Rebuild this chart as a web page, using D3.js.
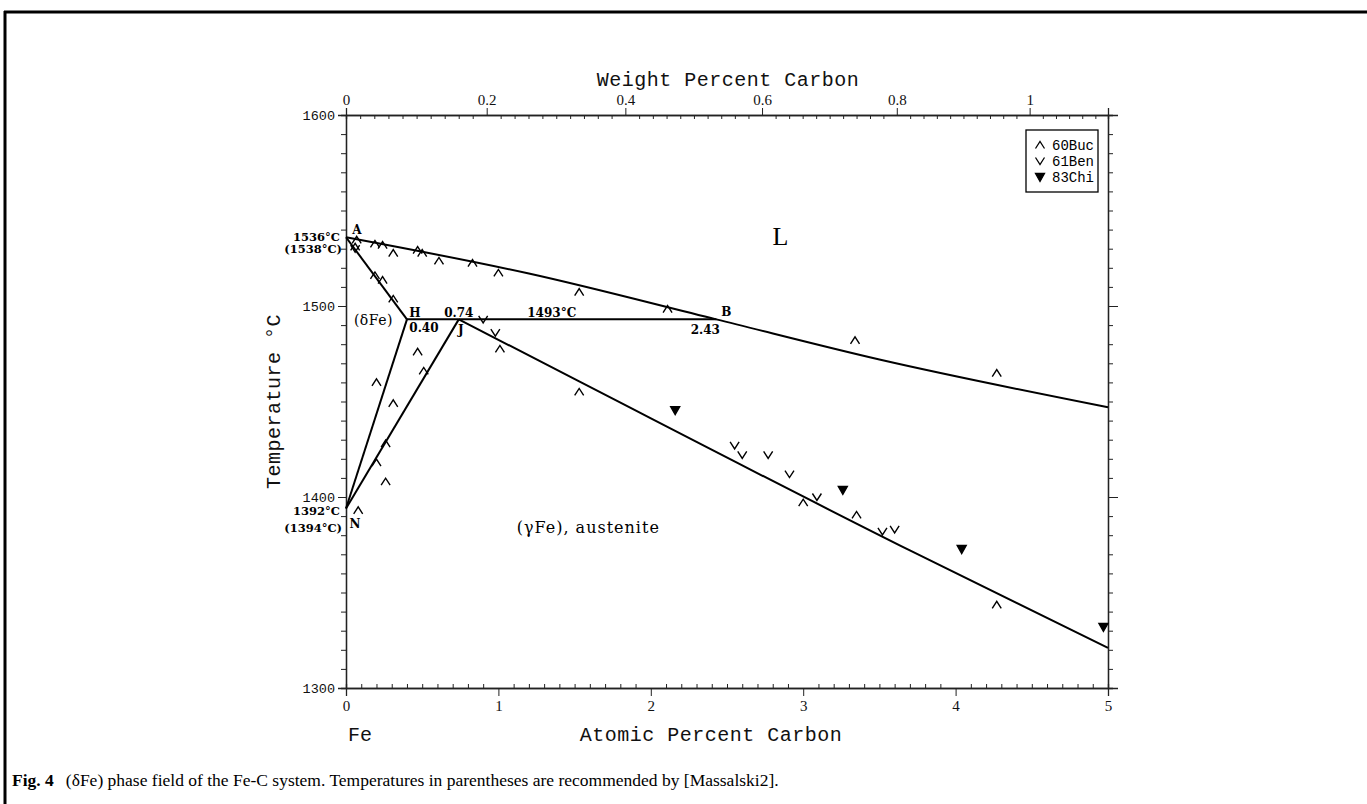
<!DOCTYPE html>
<html><head><meta charset="utf-8">
<script src="https://cdn.jsdelivr.net/npm/d3@7"></script>
<style>body{margin:0;background:#fff}svg{display:block}</style>
</head><body><svg id="c" width="1367" height="804"></svg>
<script>
// ---------- data ----------
const atTicksMajor = [0,1,2,3,4,5];
const tempTicksMajor = [1300,1400,1500,1600];
const wtTicksMajor = [0,0.2,0.4,0.6,0.8,1];
const wtTickLabels = ["0","0.2","0.4","0.6","0.8","1"];
const liquidus = [[0,1536],[1.2,1517],[2.43,1493],[3.5,1472],[5,1447]];
const solidusAH = [[0,1536],[0.40,1493]];
const peritectic = [[0.40,1493],[2.43,1493]];
const boundaryHN = [[0.40,1493],[0,1394]];
const boundaryJN = [[0.74,1493],[0,1394]];
const solidusJ = [[0.74,1493],[1.53,1460.5],[3.7,1372],[5,1321]];
const buc60 = [[0.07,1534.6],[0.06,1531],[0.19,1532.5],[0.24,1531.9],[0.31,1527.7],[0.47,1529.3],[0.5,1527.7],
  [0.61,1523.6],[0.83,1522.5],[1.0,1517.3],[1.53,1507.3],[2.11,1498.4],[3.34,1482],[4.27,1464.9],
  [0.19,1516],[0.24,1513.6],[0.31,1503.7],
  [0.47,1476],[0.51,1466],[0.2,1460],[0.31,1449],[0.26,1428],[0.2,1418],[0.26,1408],[0.08,1393],
  [1.01,1477.5],[1.53,1455],[3.0,1397],[3.35,1390.6],[4.27,1343.5]];
const ben61 = [[0.06,1530],[0.90,1493],[0.98,1486],[2.55,1427],[2.60,1422],[2.77,1422],[2.91,1412],[3.09,1400],[3.52,1382],[3.60,1383]];
const chi83 = [[2.16,1445.5],[3.26,1403.7],[4.04,1372.8],[4.97,1332]];
const legendItems = ["60Buc","61Ben","83Chi"];

// ---------- helpers ----------
const wt2at = w => { const c=w/12.011, f=(100-w)/55.845; return 100*c/(c+f); };
const svg = d3.select("#c");
const x = d3.scaleLinear().domain([0,5]).range([346,1108]);
const y = d3.scaleLinear().domain([1300,1600]).range([688,115]);
const mono = "'Liberation Mono','DejaVu Sans Mono',monospace";
const serif = "'Liberation Serif','DejaVu Serif',serif";
const wide = "'DejaVu Serif','Liberation Serif',serif";

// frame
svg.append("line").attr("x1",4).attr("x2",1367).attr("y1",12).attr("y2",12).attr("stroke","#000").attr("stroke-width",3);
svg.append("line").attr("x1",5).attr("x2",5).attr("y1",11).attr("y2",804).attr("stroke","#000").attr("stroke-width",3);

// axes
function styleAxis(g, font, size){
  g.selectAll("path.domain").attr("stroke","#222").attr("stroke-width",1.3);
  g.selectAll(".tick line").attr("stroke","#222").attr("stroke-width",1);
  g.selectAll(".tick text").attr("font-family",font||mono).attr("font-size",size||14).attr("fill","#111");
}
const minorAt = d3.range(0,5.0001,0.1).filter(v=>Math.abs(v-Math.round(v))>1e-6);
svg.append("g").attr("transform",`translate(0,${y(1300)})`)
  .call(d3.axisBottom(x).tickValues(minorAt).tickSize(-4).tickFormat("")).call(styleAxis);
svg.append("g").attr("transform",`translate(0,${y(1300)})`)
  .call(d3.axisBottom(x).tickValues(atTicksMajor).tickSize(8).tickPadding(4).tickFormat(d3.format("d")))
  .call(g=>styleAxis(g, serif, 15));
const minorWt = d3.range(0,1.121,0.02).filter(v=>Math.abs(v*5-Math.round(v*5))>1e-6 && wt2at(v)<=5);
svg.append("g").attr("transform",`translate(0,${y(1600)})`)
  .call(d3.axisTop(x).tickValues(minorWt.map(wt2at)).tickSize(-4).tickFormat("")).call(styleAxis);
svg.append("g").attr("transform",`translate(0,${y(1600)})`)
  .call(d3.axisTop(x).tickValues(wtTicksMajor.map(wt2at)).tickSize(7).tickPadding(3).tickFormat((d,i)=>wtTickLabels[i]))
  .call(g=>styleAxis(g, serif, 15));
const minorT = d3.range(1300,1600,10).filter(v=>v%100!==0);
svg.append("g").attr("transform",`translate(${x(0)},0)`)
  .call(d3.axisLeft(y).tickValues(minorT).tickSize(5).tickFormat("")).call(styleAxis);
svg.append("g").attr("transform",`translate(${x(0)},0)`)
  .call(d3.axisLeft(y).tickValues(tempTicksMajor).tickSize(8).tickPadding(3).tickFormat(d3.format("d")))
  .call(g=>styleAxis(g, mono, 13.5));
svg.append("g").attr("transform",`translate(${x(5)},0)`)
  .call(d3.axisRight(y).tickValues(minorT).tickSize(5).tickFormat("")).call(styleAxis);
svg.append("g").attr("transform",`translate(${x(5)},0)`)
  .call(d3.axisRight(y).tickValues(tempTicksMajor).tickSize(10).tickFormat("")).call(styleAxis);

// axis titles
svg.append("text").attr("x",728).attr("y",86).attr("text-anchor","middle").attr("font-family",mono)
  .attr("font-size",20).attr("letter-spacing",0.5).attr("fill","#111").text("Weight Percent Carbon");
svg.append("text").attr("x",711).attr("y",741).attr("text-anchor","middle").attr("font-family",mono)
  .attr("font-size",20).attr("letter-spacing",0.5).attr("fill","#111").text("Atomic Percent Carbon");
svg.append("text").attr("x",360).attr("y",741).attr("text-anchor","middle").attr("font-family",mono)
  .attr("font-size",20).attr("fill","#111").text("Fe");
svg.append("text").attr("transform",`translate(280,${(y(1300)+y(1600))/2}) rotate(-90)`).attr("text-anchor","middle")
  .attr("font-family",mono).attr("font-size",20).attr("letter-spacing",0.5).attr("fill","#111").text("Temperature °C");

// phase lines
const line = d3.line().x(d=>x(d[0])).y(d=>y(d[1]));
const lineC = d3.line().x(d=>x(d[0])).y(d=>y(d[1])).curve(d3.curveMonotoneX);
[liquidus, solidusJ].forEach(p=>svg.append("path").attr("d",lineC(p)).attr("fill","none").attr("stroke","#000").attr("stroke-width",2));
[solidusAH, peritectic, boundaryHN, boundaryJN].forEach(p=>svg.append("path").attr("d",line(p)).attr("fill","none").attr("stroke","#000").attr("stroke-width",2));

// markers
const up = "M-4.5,3.5L0,-3.5L4.5,3.5", down = "M-4.5,-3.5L0,3.5L4.5,-3.5", tri = "M-4.5,-3.5L4.5,-3.5L0,4.5Z";
function markers(data, d, filled){
  svg.append("g").selectAll("path").data(data).join("path")
    .attr("transform",p=>`translate(${x(p[0])},${y(p[1])})`).attr("d",d)
    .attr("fill",filled?"#000":"none").attr("stroke","#000").attr("stroke-width",1.4);
}
markers(buc60, up, false);
markers(ben61, down, false);
markers(chi83, tri, true);

// annotations
function lab(t, px, py, opt={}){
  return svg.append("text").attr("x",px).attr("y",py).attr("text-anchor",opt.anchor||"middle")
    .attr("font-family",opt.font||wide).attr("font-size",opt.size||12).attr("font-weight",opt.weight||"bold")
    .attr("letter-spacing",opt.ls||0).attr("fill","#000").text(t);
}
lab("A", x(0)+11, y(1536)-3);
lab("1536°C", x(0)-6, y(1536)+3.5, {anchor:"end", size:11.5});
lab("(1538°C)", x(0)-4, y(1536)+16, {anchor:"end", size:11.5});
lab("H", x(0.40)+8, y(1493)-2);
lab("0.40", x(0.40)+17, y(1493)+13);
lab("0.74", x(0.74), y(1493)-2);
lab("J", x(0.74)+2, y(1493)+15);
lab("1493°C", x(1.35), y(1493)-2);
lab("B", x(2.43)+10, y(1493)-3);
lab("2.43", x(2.43)-11, y(1493)+15);
lab("1392°C", x(0)-6, y(1394)+7, {anchor:"end", size:11.5});
lab("(1394°C)", x(0)-4, y(1394)+24, {anchor:"end", size:11.5});
lab("N", x(0)+9, y(1394)+20);
lab("(δFe)", x(0.18), y(1490), {size:14, weight:"normal", ls:0.5});
lab("(γFe), austenite", x(1.12), y(1381), {size:16, weight:"normal", anchor:"start", ls:1});
lab("L", x(2.85), y(1532), {size:26, weight:"normal", font:serif});

// legend
const lg = svg.append("g").attr("transform","translate(1026,130)");
lg.append("rect").attr("width",72).attr("height",62).attr("fill","#fff").attr("stroke","#000").attr("stroke-width",1.3);
const legSym=[up,down,tri];
legendItems.forEach((t,i)=>{
  lg.append("path").attr("d",legSym[i]).attr("transform",`translate(14,${15+i*16})`)
    .attr("fill",i===2?"#000":"none").attr("stroke","#000").attr("stroke-width",1.3);
  lg.append("text").attr("x",26).attr("y",20+i*16).attr("font-family",mono).attr("font-size",14).attr("fill","#000").text(t);
});

// caption
const cap = svg.append("text").attr("x",12).attr("y",786).attr("font-family",serif).attr("font-size",17.5).attr("fill","#000");
cap.append("tspan").attr("font-weight","bold").text("Fig. 4");
cap.append("tspan").attr("dx",12).text("(δFe) phase field of the Fe-C system. Temperatures in parentheses are recommended by [Massalski2].");
</script></body></html>
